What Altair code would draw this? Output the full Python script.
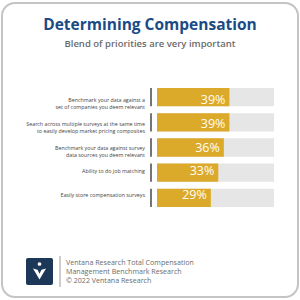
import altair as alt
import pandas as pd

categories = [
    "Benchmark your data against a\nset of companies you deem relevant",
    "Search across multiple surveys at the same time\nto easily develop market pricing composites",
    "Benchmark your data against survey\ndata sources you deem relevant",
    "Ability to do job matching",
    "Easily store compensation surveys",
]
values = [39, 39, 36, 33, 29]
pct_labels = ["39%", "39%", "36%", "33%", "29%"]
footer_lines = [
    "Ventana Research Total Compensation",
    "Management Benchmark Research",
    "© 2022 Ventana Research",
]

df = pd.DataFrame({
    "key": [f"c{i}" for i in range(len(categories))],
    "label": categories,
    "value": values,
    "pct": pct_labels,
    "full": [63] * len(values),
})

MAXV = 63
xs = alt.Scale(domain=[0, MAXV], range=[157, 274])
ys = alt.Scale(domain=list(df["key"]), range=[88, 207], paddingInner=0.27, paddingOuter=0)

frame = alt.Chart(pd.DataFrame({"a": [0]})).mark_rect(
    fill="white", stroke="#c4c4c4", strokeWidth=2, cornerRadius=13
).encode(x=alt.value(2), x2=alt.value(298), y=alt.value(3), y2=alt.value(297))

title = alt.Chart(pd.DataFrame({"t": ["Determining Compensation"]})).mark_text(
    font="Open Sans", fontSize=15.5, fontWeight="bold", color="#1b4b85", align="center", baseline="middle"
).encode(text="t:N", x=alt.value(150), y=alt.value(25))

subtitle = alt.Chart(pd.DataFrame({"t": ["Blend of priorities are very important"]})).mark_text(
    font="Open Sans", fontSize=9.5, fontWeight=600, color="#6b6b6b", align="center", baseline="middle"
).encode(text="t:N", x=alt.value(150), y=alt.value(43.5))

base = alt.Chart(df)
ybar = alt.Y("key:N", scale=ys, axis=None, sort=None)
ymid = alt.Y("key:N", scale=ys, axis=None, sort=None, bandPosition=0.5)

bg = base.mark_bar(color="#e6e6e6").encode(
    x=alt.X("full:Q", scale=xs, axis=None), x2=alt.X2(datum=0), y=ybar
)
bars = base.mark_bar(color="#dcaa2a").encode(
    x=alt.X("value:Q", scale=xs, axis=None), x2=alt.X2(datum=0), y=ybar
)
pct = base.mark_text(
    font="Open Sans", fontSize=12.5, color="#fffdf5", align="right", baseline="middle", dx=-4
).encode(x=alt.X("value:Q", scale=xs, axis=None), y=ymid, text="pct:N")

ticks = base.mark_bar(color="#666666", width=1.8).encode(
    x=alt.value(151), y=ybar
)

labels = base.mark_text(
    font="Open Sans", fontSize=5.3, color="#444444", align="right", baseline="middle", lineBreak="\n", lineHeight=7.5
).encode(x=alt.value(145), y=ymid, text="label:N")

logo_bg = alt.Chart(pd.DataFrame({"a": [0]})).mark_rect(fill="#1c3757", cornerRadius=2).encode(
    x=alt.value(26), x2=alt.value(53), y=alt.value(258), y2=alt.value(285)
)
logo_v = alt.Chart(pd.DataFrame({"a": [0]})).mark_point(
    shape="M-1,-0.7L-0.3,-0.5L0,0.1L0.3,-0.5L1,-0.7L0,1Z", filled=True, color="white", opacity=1, size=170
).encode(x=alt.value(39.5), y=alt.value(273))
logo_dot = alt.Chart(pd.DataFrame({"a": [0]})).mark_point(
    shape="circle", filled=True, color="white", opacity=1, size=14
).encode(x=alt.value(39.5), y=alt.value(264))

vline = alt.Chart(pd.DataFrame({"a": [0]})).mark_rule(color="#9a9a9a", strokeWidth=1).encode(
    x=alt.value(60), y=alt.value(256), y2=alt.value(287)
)

fdf = pd.DataFrame({"t": footer_lines, "i": [0, 1, 2]})
footer = alt.Chart(fdf).mark_text(
    font="Open Sans", fontSize=7.1, color="#6b6b6b", align="left", baseline="middle"
).encode(
    x=alt.value(66),
    y=alt.Y("i:O", scale=alt.Scale(domain=[0, 1, 2], range=[263, 281], type="point", padding=0), axis=None),
    text="t:N",
)

chart = alt.layer(
    frame, title, subtitle, bg, bars, pct, ticks, labels, logo_bg, logo_v, logo_dot, vline, footer
).resolve_scale(x="independent", y="independent").properties(
    width=300, height=300, padding=0, autosize=alt.AutoSizeParams(type="none")
).configure_view(stroke=None)

chart.save("out.html", embed_options={"renderer": "svg", "actions": False})
